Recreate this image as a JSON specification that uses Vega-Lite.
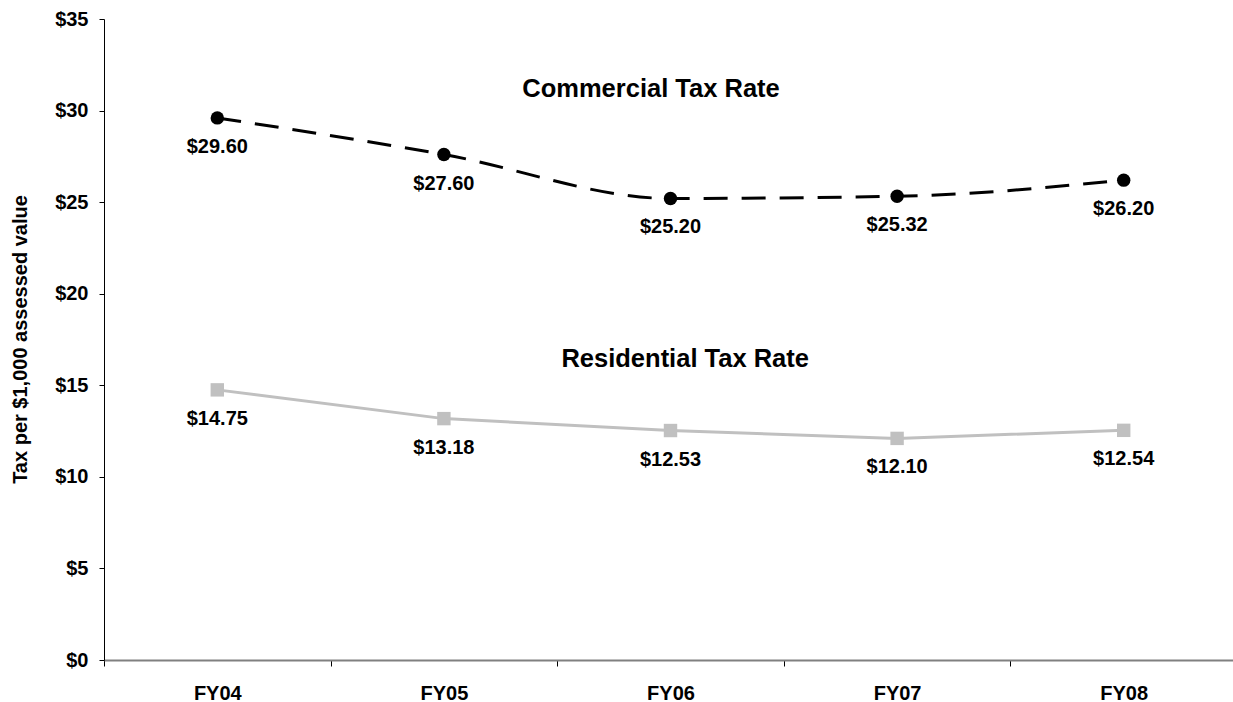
{
  "$schema": "https://vega.github.io/schema/vega-lite/v6.json",
  "autosize": "none",
  "width": 1129,
  "height": 641,
  "padding": {"left": 104, "top": 19, "right": 0, "bottom": 42},
  "background": "white",
  "config": {
    "view": {"stroke": null},
    "font": "Liberation Sans",
    "text": {"font": "Liberation Sans"}
  },
  "data": {
    "values": [
      {"year": "FY04", "series": "Commercial", "rate": 29.60},
      {"year": "FY05", "series": "Commercial", "rate": 27.60},
      {"year": "FY06", "series": "Commercial", "rate": 25.20},
      {"year": "FY07", "series": "Commercial", "rate": 25.32},
      {"year": "FY08", "series": "Commercial", "rate": 26.20},
      {"year": "FY04", "series": "Residential", "rate": 14.75},
      {"year": "FY05", "series": "Residential", "rate": 13.18},
      {"year": "FY06", "series": "Residential", "rate": 12.53},
      {"year": "FY07", "series": "Residential", "rate": 12.10},
      {"year": "FY08", "series": "Residential", "rate": 12.54}
    ]
  },
  "encoding": {
    "x": {
      "field": "year",
      "type": "ordinal",
      "sort": ["FY04", "FY05", "FY06", "FY07", "FY08"],
      "scale": {"type": "band", "paddingInner": 0, "paddingOuter": 0, "range": [0, 1133]},
      "axis": {
        "title": null,
        "labelAngle": 0,
        "labelFont": "Liberation Sans",
        "labelFontSize": 20,
        "labelFontWeight": "bold",
        "labelColor": "#000000",
        "labelPadding": 17,
        "domainColor": "#808080",
        "domainWidth": 2,
        "tickColor": "#000000",
        "tickWidth": 1,
        "tickSize": 6,
        "tickBand": "extent",
        "grid": false
      }
    },
    "y": {
      "field": "rate",
      "type": "quantitative",
      "scale": {"domain": [0, 35], "nice": false, "zero": true},
      "axis": {
        "title": "Tax per $1,000 assessed value",
        "titleFont": "Liberation Sans",
        "titleFontSize": 20,
        "titleFontWeight": "bold",
        "titleColor": "#000000",
        "titleAngle": 270,
        "titleX": -84,
        "titleY": 320,
        "titleAlign": "center",
        "titleBaseline": "middle",
        "values": [0, 5, 10, 15, 20, 25, 30, 35],
        "labelExpr": "'$' + datum.value",
        "labelFont": "Liberation Sans",
        "labelFontSize": 20,
        "labelFontWeight": "bold",
        "labelColor": "#000000",
        "labelPadding": 11,
        "domainColor": "#000000",
        "domainWidth": 1,
        "tickColor": "#000000",
        "tickSize": 5,
        "grid": false
      }
    }
  },
  "layer": [
    {
      "transform": [{"filter": "datum.series === 'Residential'"}],
      "mark": {"type": "line", "color": "#c0c0c0", "strokeWidth": 3},
      "encoding": {}
    },
    {
      "transform": [{"filter": "datum.series === 'Residential'"}],
      "mark": {"type": "point", "shape": "square", "filled": true, "color": "#c0c0c0", "size": 180, "opacity": 1},
      "encoding": {}
    },
    {
      "transform": [{"filter": "datum.series === 'Residential'"}],
      "mark": {"type": "text", "font": "Liberation Sans", "fontSize": 20, "fontWeight": "bold", "color": "#000000", "baseline": "middle", "align": "center", "dy": 29},
      "encoding": {"text": {"field": "rate", "type": "quantitative", "format": "$.2f"}}
    },
    {
      "transform": [{"filter": "datum.series === 'Commercial'"}],
      "mark": {"type": "line", "color": "#000000", "strokeWidth": 3, "strokeDash": [24, 14], "interpolate": "monotone"},
      "encoding": {}
    },
    {
      "transform": [{"filter": "datum.series === 'Commercial'"}],
      "mark": {"type": "point", "shape": "circle", "filled": true, "color": "#000000", "size": 180, "opacity": 1},
      "encoding": {}
    },
    {
      "transform": [{"filter": "datum.series === 'Commercial'"}],
      "mark": {"type": "text", "font": "Liberation Sans", "fontSize": 20, "fontWeight": "bold", "color": "#000000", "baseline": "middle", "align": "center", "dy": 29},
      "encoding": {"text": {"field": "rate", "type": "quantitative", "format": "$.2f"}}
    },
    {
      "transform": [{"filter": "datum.series === 'Commercial' && datum.year === 'FY06'"}],
      "mark": {"type": "text", "font": "Liberation Sans", "fontSize": 25.5, "fontWeight": "bold", "color": "#000000", "baseline": "middle", "align": "center", "dx": -19.5, "text": "Commercial Tax Rate"},
      "encoding": {
        "y": {"datum": 31.2, "type": "quantitative"}
      }
    },
    {
      "transform": [{"filter": "datum.series === 'Residential' && datum.year === 'FY06'"}],
      "mark": {"type": "text", "font": "Liberation Sans", "fontSize": 25.5, "fontWeight": "bold", "color": "#000000", "baseline": "middle", "align": "center", "dx": 14.7, "text": "Residential Tax Rate"},
      "encoding": {
        "y": {"datum": 16.41, "type": "quantitative"}
      }
    }
  ]
}
